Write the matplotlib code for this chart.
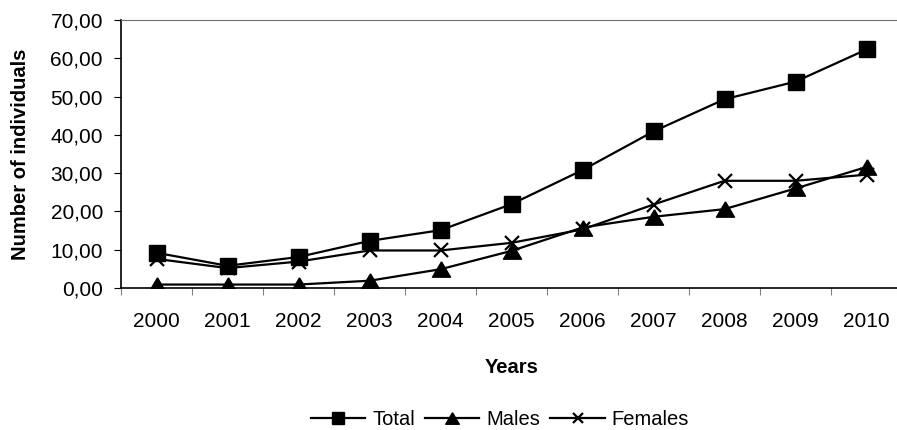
import matplotlib.pyplot as plt
from matplotlib.ticker import FuncFormatter

# data
years = ["2000", "2001", "2002", "2003", "2004", "2005", "2006", "2007", "2008", "2009", "2010"]
total = [9.2, 5.8, 8.1, 12.3, 15.1, 21.9, 30.8, 40.9, 49.3, 53.9, 62.3]
males = [0.9, 0.9, 0.9, 1.9, 4.9, 9.7, 15.8, 18.6, 20.6, 26.0, 31.6]
females = [7.6, 5.2, 6.9, 9.8, 9.8, 11.8, 15.3, 21.8, 28.0, 28.0, 29.6]

plt.rcParams['font.family'] = ['Liberation Sans', 'DejaVu Sans']

fig = plt.figure(figsize=(8.97, 4.30), dpi=100)
ax = fig.add_axes([121/897, 1-288/430, (902-121)/897, (288-20)/430])

# slightly flattened triangle like the original
tri = [(0, 0.85), (-1, -0.85), (1, -0.85), (0, 0.85)]

x = [i + 0.5 for i in range(len(years))]
ax.plot(x, total, color='black', lw=1.6, marker='s', ms=11, label='Total')
ax.plot(x, males, color='black', lw=1.6, marker=tri, ms=13, label='Males')
ax.plot(x, females, color='black', lw=1.6, marker='x', ms=10.5, mew=1.6, label='Females')

ax.set_xlim(0, len(years))
ax.set_ylim(0, 70)
ax.set_yticks(range(0, 71, 10))
ax.yaxis.set_major_formatter(FuncFormatter(lambda v, p: ('%.2f' % v).replace('.', ',')))

# category boundaries for ticks, labels in the middle
ax.set_xticks(range(0, len(years) + 1))
ax.set_xticklabels([])
ax.set_xticks(x, minor=True)
ax.set_xticklabels(years, minor=True)
ax.tick_params(axis='x', which='major', length=5, color='#808080', direction='out')
ax.tick_params(axis='x', which='minor', length=0, pad=17.5, labelsize=15)
ax.tick_params(axis='y', length=5, color='black', labelsize=15, pad=8)

ax.spines['right'].set_visible(False)
ax.spines['top'].set_color('#707070')
ax.spines['left'].set_linewidth(1.2)
ax.spines['bottom'].set_linewidth(1.2)

ax.set_xlabel('Years', fontsize=14.5, fontweight='bold', labelpad=19)
ax.set_ylabel('Number of individuals', fontsize=14.5, fontweight='bold', labelpad=15)

fig.legend(loc='center', bbox_to_anchor=(500/897, 1-419.5/430), ncol=3, frameon=False,
           fontsize=14.5, handlelength=2.7, handletextpad=0.35, columnspacing=0.5,
           markerscale=0.75, borderpad=0)

fig.savefig('out.png', dpi=100)
